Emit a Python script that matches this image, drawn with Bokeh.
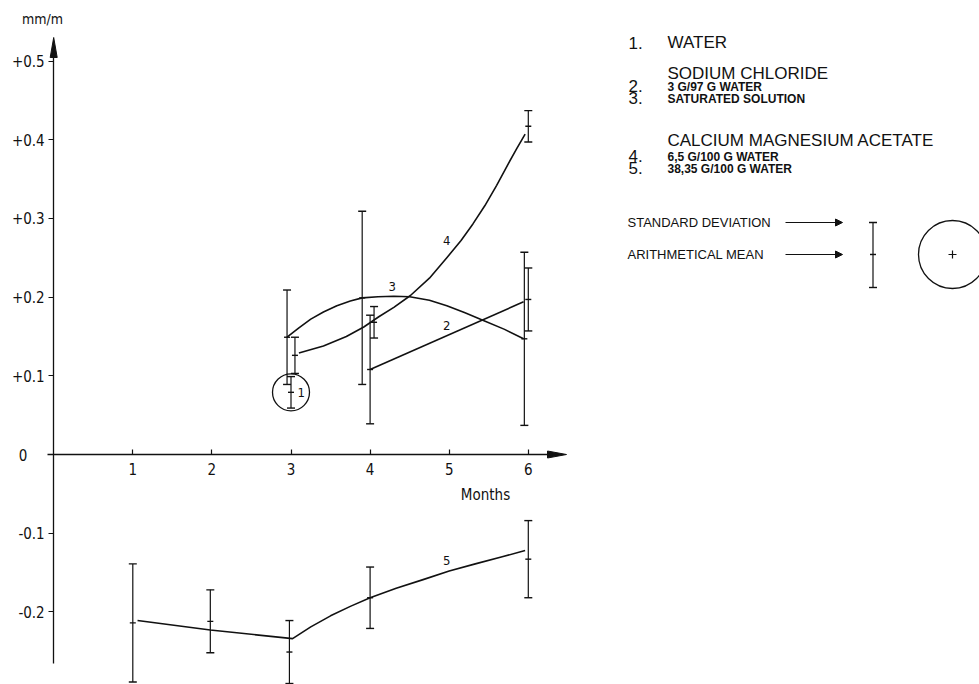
from bokeh.plotting import figure
from bokeh.models import Range1d, LinearAxis, FixedTicker, Arrow, NormalHead
from bokeh.core.properties import value
from bokeh.embed import file_html
from bokeh.resources import INLINE

# ---------------- data (mm/m against months) ----------------
x_ticks = [1, 2, 3, 4, 5, 6]
x_tick_labels = ["1", "2", "3", "4", "5", "6"]
y_ticks = [-0.2, -0.1, 0.1, 0.2, 0.3, 0.4, 0.5]
y_tick_labels = ["-0.2", "-0.1", "+0.1", "+0.2", "+0.3", "+0.4", "+0.5"]

# 1. water
water_x = [3.0]
water_mean = [0.079]
water_sd = [0.020]

# 2. sodium chloride, 3 g / 97 g water
nacl_x = [4.0, 6.0]
nacl_mean = [0.108, 0.197]
nacl_sd = [0.069, 0.040]
nacl_curve_x = [4.0, 5.94]
nacl_curve_y = [0.108, 0.194]

# 3. sodium chloride, saturated solution
sat_x = [2.95, 3.90, 5.95]
sat_mean = [0.149, 0.199, 0.147]
sat_sd = [0.060, 0.110, 0.110]
sat_curve_x = [2.95, 3.10, 3.25, 3.41, 3.58, 3.75, 3.90, 4.10, 4.30, 4.50,
               4.75, 4.97, 5.20, 5.44, 5.70, 5.94]
sat_curve_y = [0.149, 0.161, 0.172, 0.181, 0.189, 0.195, 0.199, 0.2005, 0.201, 0.2005,
               0.196, 0.189, 0.180, 0.170, 0.159, 0.147]

# 4. calcium magnesium acetate, 6,5 g / 100 g water
cma_lo_x = [3.05, 4.05, 6.0]
cma_lo_mean = [0.126, 0.168, 0.417]
cma_lo_sd = [0.023, 0.020, 0.020]
cma_lo_curve_x = [3.10, 3.41, 3.70, 3.92, 4.11, 4.30, 4.51, 4.75, 4.97, 5.15,
                  5.30, 5.45, 5.60, 5.75, 5.85, 5.96]
cma_lo_curve_y = [0.129, 0.138, 0.150, 0.162, 0.175, 0.187, 0.202, 0.224, 0.250, 0.272,
                  0.293, 0.316, 0.342, 0.370, 0.388, 0.407]

# 5. calcium magnesium acetate, 38,35 g / 100 g water
cma_hi_x = [1.0, 1.98, 2.98, 4.0, 6.0]
cma_hi_mean = [-0.214, -0.212, -0.251, -0.182, -0.133]
cma_hi_sd = [0.075, 0.040, 0.040, 0.039, 0.049]
cma_hi_curve_x = [1.06, 1.98, 3.02, 3.25, 3.50, 3.75, 4.0, 4.33, 4.67, 5.0,
                  5.33, 5.67, 5.96]
cma_hi_curve_y = [-0.211, -0.223, -0.234, -0.219, -0.205, -0.193, -0.182, -0.170,
                  -0.159, -0.148, -0.139, -0.130, -0.122]

# curve numbers
curve_label_text = ["1", "2", "3", "4", "5"]
curve_label_x = [3.13, 4.97, 4.28, 4.97, 4.97]
curve_label_y = [0.079, 0.164, 0.213, 0.272, -0.135]

# legend texts
legend_numbers = ["1.", "2.", "3.", "4.", "5."]
legend_headers = ["WATER", "SODIUM CHLORIDE", "CALCIUM MAGNESIUM ACETATE"]
legend_items = ["3 G/97 G WATER", "SATURATED  SOLUTION",
                "6,5 G/100 G WATER", "38,35 G/100 G WATER"]
key_texts = ["STANDARD DEVIATION", "ARITHMETICAL MEAN"]

# ---------------- layout ----------------
W, H = 979, 684
X0, SX = 53.2, 79.1     # pixel of month 0, pixels per month
Y0, SY = 454.0, 787.0   # pixel of 0 mm/m, pixels per mm/m


def fx(px):
    return (px - X0) / SX


def fy(py):
    return (Y0 - py) / SY


INK = "#111111"
AX_FONT = "'DejaVu Sans Condensed', 'Liberation Sans Narrow', 'DejaVu Sans', sans-serif"
LEG_FONT = "'Liberation Sans', Arial, sans-serif"

p = figure(width=W, height=H, output_backend="svg", toolbar_location=None,
           x_range=Range1d(fx(0), fx(W)), y_range=Range1d(fy(H), fy(0)),
           x_axis_type=None, y_axis_type=None, min_border=0,
           outline_line_color=None, background_fill_color="white",
           border_fill_color="white")

# axes crossing at the origin
yaxis = LinearAxis(fixed_location=0, bounds=(-0.265, 0.51),
                   ticker=FixedTicker(ticks=y_ticks),
                   major_label_overrides=dict(zip(y_ticks, y_tick_labels)),
                   major_tick_out=5, major_tick_in=0,
                   minor_tick_out=0, minor_tick_in=0,
                   axis_line_color=INK, axis_line_width=1.3,
                   major_tick_line_color=INK, major_tick_line_width=1.2,
                   major_label_standoff=4,
                   major_label_text_font=AX_FONT,
                   major_label_text_font_size="15px",
                   major_label_text_color=INK)
p.add_layout(yaxis, "left")

xaxis = LinearAxis(fixed_location=0, bounds=(-0.08, 6.3),
                   ticker=FixedTicker(ticks=x_ticks),
                   major_label_overrides=dict(zip(x_ticks, x_tick_labels)),
                   major_tick_out=0, major_tick_in=5,
                   minor_tick_out=0, minor_tick_in=0,
                   axis_line_color=INK, axis_line_width=1.3,
                   major_tick_line_color=INK, major_tick_line_width=1.2,
                   major_label_standoff=8,
                   major_label_text_font=AX_FONT,
                   major_label_text_font_size="15px",
                   major_label_text_color=INK)
p.add_layout(xaxis, "below")

# arrow heads of the axes
p.patch([fx(X0 - 3.5), fx(X0), fx(X0 + 3.5)], [fy(57), fy(37), fy(57)],
        fill_color=INK, line_color=INK, line_width=1)
p.patch([fx(547), fx(566), fx(547)], [fy(Y0 - 3.5), fy(Y0), fy(Y0 + 3.5)],
        fill_color=INK, line_color=INK, line_width=1)

# axis texts
p.text([fx(22.5)], [0], text=["0"], text_font=value(AX_FONT),
       text_font_size="15px", text_align="center", text_baseline="middle",
       text_color=INK)
p.text([fx(42)], [fy(18)], text=["mm/m"], text_font=value(AX_FONT),
       text_font_size="14px", text_align="center", text_baseline="middle",
       text_color=INK)
p.text([fx(485)], [fy(494)], text=["Months"], text_font=value(AX_FONT),
       text_font_size="15px", text_align="center", text_baseline="middle",
       text_color=INK)


def error_bars(xs, means, sds):
    lo = [m - s for m, s in zip(means, sds)]
    hi = [m + s for m, s in zip(means, sds)]
    p.segment(x0=xs, y0=lo, x1=xs, y1=hi, line_color=INK, line_width=1.2)
    p.scatter(xs + xs, lo + hi, marker="dash", size=8,
              line_color=INK, line_width=1.4)
    p.scatter(xs, means, marker="dash", size=6, line_color=INK, line_width=1.4)


for xs, ms, ss in [(water_x, water_mean, water_sd),
                   (nacl_x, nacl_mean, nacl_sd),
                   (sat_x, sat_mean, sat_sd),
                   (cma_lo_x, cma_lo_mean, cma_lo_sd),
                   (cma_hi_x, cma_hi_mean, cma_hi_sd)]:
    error_bars(xs, ms, ss)

# fitted curves
for cx, cy in [(nacl_curve_x, nacl_curve_y), (sat_curve_x, sat_curve_y),
               (cma_lo_curve_x, cma_lo_curve_y), (cma_hi_curve_x, cma_hi_curve_y)]:
    p.line(cx, cy, line_color=INK, line_width=1.6, line_join="round")

# single water measurement ringed
p.scatter(water_x, water_mean, marker="circle", size=37,
          fill_color=None, line_color=INK, line_width=1.3)

p.text(curve_label_x, curve_label_y, text=curve_label_text,
       text_font=value(AX_FONT), text_font_size="13px",
       text_align="center", text_baseline="middle", text_color=INK)

# ---------------- legend ----------------
num_py = [42, 85, 97, 155, 167]
p.text([fx(628)] * 5, [fy(v) for v in num_py], text=legend_numbers,
       text_font=value(LEG_FONT), text_font_size="17px",
       text_baseline="middle", text_color=INK)
head_py = [42, 73, 140]
p.text([fx(667)] * 3, [fy(v) for v in head_py], text=legend_headers,
       text_font=value(LEG_FONT), text_font_size="17px",
       text_baseline="middle", text_color=INK)
item_py = [86, 98, 156, 168]
p.text([fx(667)] * 4, [fy(v) for v in item_py], text=legend_items,
       text_font=value(LEG_FONT), text_font_size="12px", text_font_style="bold",
       text_baseline="middle", text_color=INK)
key_py = [222, 254]
p.text([fx(627)] * 2, [fy(v) for v in key_py], text=key_texts,
       text_font=value(LEG_FONT), text_font_size="13px",
       text_baseline="middle", text_color=INK)
for v in key_py:
    p.add_layout(Arrow(x_start=fx(785), y_start=fy(v), x_end=fx(842), y_end=fy(v),
                       line_color=INK, line_width=1,
                       end=NormalHead(size=7, fill_color=INK, line_color=INK)))

kx = [fx(872.5)]
p.segment(x0=kx, y0=[fy(287)], x1=kx, y1=[fy(222)], line_color=INK, line_width=1.2)
p.scatter(kx * 2, [fy(222), fy(287)], marker="dash", size=8, line_color=INK, line_width=1.4)
p.scatter(kx, [fy(254)], marker="dash", size=6, line_color=INK, line_width=1.4)
p.scatter([fx(952)], [fy(254)], marker="circle", size=68,
          fill_color=None, line_color=INK, line_width=1.3)
p.scatter([fx(952)], [fy(254)], marker="cross", size=8, line_color=INK, line_width=1.2)

open("out.html", "w").write(file_html(p, INLINE))
